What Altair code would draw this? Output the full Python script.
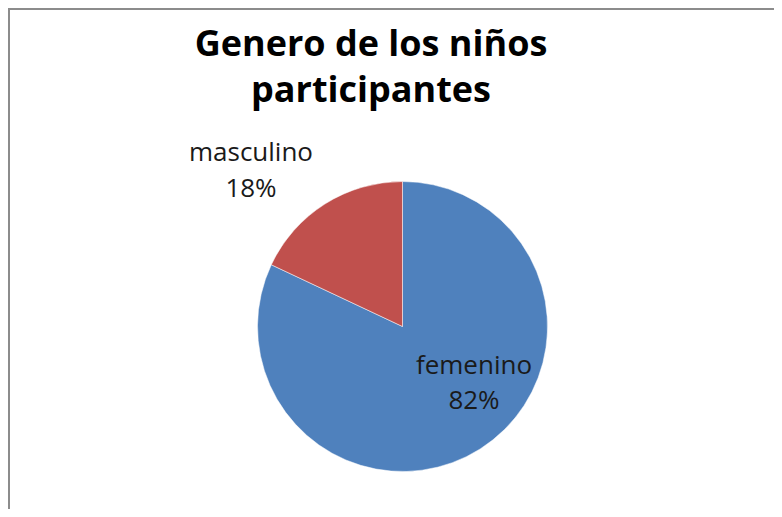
import altair as alt
import pandas as pd

categorias = ["femenino", "masculino"]
porcentajes = [82, 18]
colores = ["#4F81BD", "#C0504D"]
titulo = "Genero de los niños\nparticipantes"

df = pd.DataFrame({"genero": categorias, "valor": porcentajes, "orden": list(range(len(categorias)))})
df["etiqueta"] = df["genero"] + "\n" + df["valor"].astype(str) + "%"

W, H = 766, 501
CX, CY = 394.5, 318.5

base = alt.Chart(df)

pie = base.mark_arc(radius=145, stroke="white", strokeWidth=0.5).encode(
    theta=alt.Theta("valor:Q", stack=True),
    order=alt.Order("orden:Q"),
    color=alt.Color("genero:N", scale=alt.Scale(domain=categorias, range=colores), legend=None),
    x=alt.value(CX),
    y=alt.value(CY),
)

FONT = "Open Sans"

lab_f = base.transform_filter(alt.datum.genero == "femenino").mark_text(
    font=FONT, fontSize=26, color="#1a1a1a", align="center", baseline="alphabetic",
    lineBreak="\n", lineHeight=35,
).encode(text="etiqueta:N", x=alt.value(466), y=alt.value(366))

lab_m = base.transform_filter(alt.datum.genero == "masculino").mark_text(
    font=FONT, fontSize=26, color="#1a1a1a", align="center", baseline="alphabetic",
    lineBreak="\n", lineHeight=36,
).encode(text="etiqueta:N", x=alt.value(243), y=alt.value(153))

title = alt.Chart(pd.DataFrame({"t": [titulo]})).mark_text(
    font=FONT, fontSize=36, fontWeight="bold", color="#000000", align="center",
    baseline="alphabetic", lineBreak="\n", lineHeight=46,
).encode(text="t:N", x=alt.value(363), y=alt.value(48))

border_top = alt.Chart(pd.DataFrame({"a": [0]})).mark_rule(color="#8c8c8c", strokeWidth=2).encode(
    x=alt.value(0), x2=alt.value(W), y=alt.value(1)
)
border_left = alt.Chart(pd.DataFrame({"a": [0]})).mark_rule(color="#8c8c8c", strokeWidth=2).encode(
    x=alt.value(1), y=alt.value(0), y2=alt.value(H)
)

chart = alt.layer(pie, lab_f, lab_m, title, border_top, border_left).properties(
    width=W, height=H, padding=0, autosize="none", background="white"
).configure_view(stroke=None)

chart.save("out.html", embed_options={"renderer": "svg", "actions": False})
